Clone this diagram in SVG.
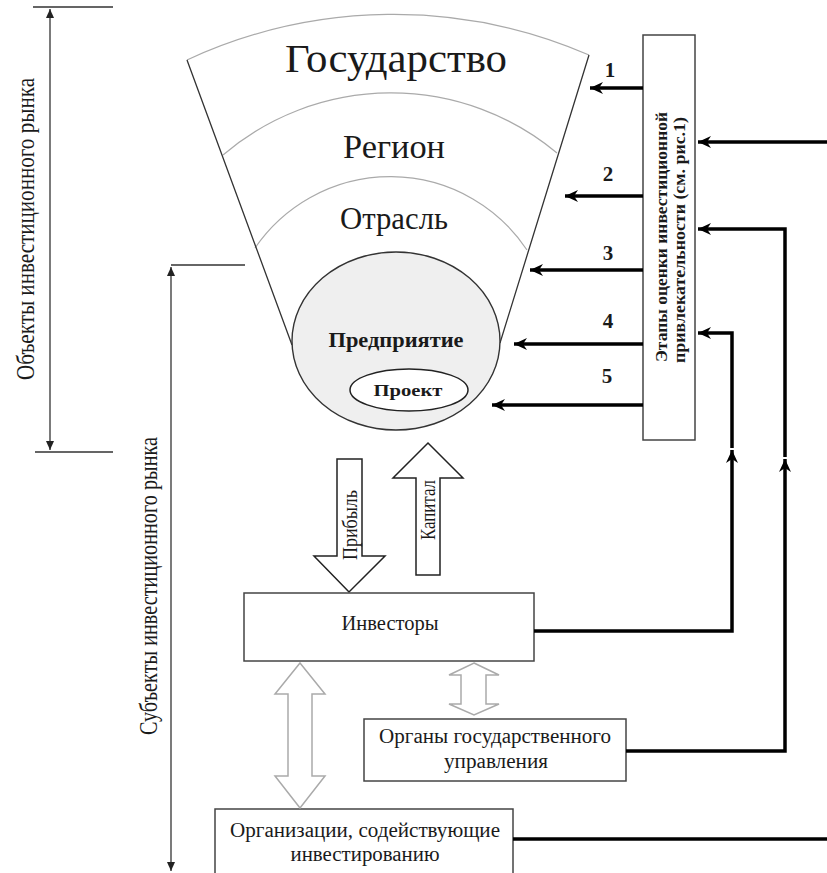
<svg xmlns="http://www.w3.org/2000/svg" width="827" height="873" viewBox="0 0 827 873">
<style>
text{font-family:"Liberation Serif","DejaVu Serif","Times New Roman",serif;fill:#1a1a1a}
.b{font-weight:bold}
.box{fill:#fff;stroke:#444;stroke-width:1.5}
.thin{fill:none;stroke:#333;stroke-width:1.3}
.arc{fill:none;stroke:#aaa;stroke-width:1.2}
.thick{fill:none;stroke:#000;stroke-width:3.5}
.hollow{fill:#fff;stroke:#aaa;stroke-width:1.5}
.blk{fill:#fff;stroke:#222;stroke-width:1.5}
</style>
<defs>
<marker id="ah" markerWidth="14" markerHeight="12" refX="13" refY="6" orient="auto" markerUnits="userSpaceOnUse">
<path d="M0,0 L13,6 L0,12 L4,6 Z" fill="#000"/>
</marker>
<marker id="sa" markerWidth="10" markerHeight="8" refX="9" refY="4" orient="auto-start-reverse" markerUnits="userSpaceOnUse">
<path d="M0,0 L9,4 L0,8 Z" fill="#222"/>
</marker>
</defs>
<rect width="827" height="873" fill="#fff"/>

<g id="axis-objects">
<path class="thin" d="M33,7 H113 M35,452 H113"/>
<path class="thin" d="M50,9 V450" marker-start="url(#sa)" marker-end="url(#sa)"/>
<text transform="translate(34,229) rotate(-90)" text-anchor="middle" font-size="26" textLength="302" lengthAdjust="spacingAndGlyphs">Объекты инвестиционного рынка</text>
</g>

<g id="axis-subjects">
<path class="thin" d="M171,265 H245"/>
<path class="thin" d="M171,267 V871" marker-start="url(#sa)" marker-end="url(#sa)"/>
<text transform="translate(157,586) rotate(-90)" text-anchor="middle" font-size="26" textLength="298" lengthAdjust="spacingAndGlyphs">Субъекты инвестиционного рынка</text>
</g>

<g id="fan">
<path class="arc" d="M187,60 A491,491 0 0,1 589,55"/>
<path class="arc" d="M223,155 A259,259 0 0,1 557,153"/>
<path class="arc" d="M255,248 A164,164 0 0,1 527,250"/>
<path class="thin" d="M187,60 L292,345 M589,55 L500,343"/>
<text x="396" y="72" text-anchor="middle" font-size="41" textLength="222" lengthAdjust="spacingAndGlyphs">Государство</text>
<text x="394" y="158" text-anchor="middle" font-size="33" textLength="102" lengthAdjust="spacingAndGlyphs">Регион</text>
<text x="394" y="229" text-anchor="middle" font-size="31" textLength="108" lengthAdjust="spacingAndGlyphs">Отрасль</text>
</g>

<g id="enterprise">
<ellipse cx="396" cy="341" rx="104" ry="89" fill="#efefef" stroke="#333" stroke-width="1.4"/>
<text class="b" x="396" y="347" text-anchor="middle" font-size="21" textLength="135" lengthAdjust="spacingAndGlyphs">Предприятие</text>
</g>

<g id="project">
<ellipse cx="409" cy="390" rx="59" ry="21" fill="#fff" stroke="#222" stroke-width="1.5"/>
<text class="b" x="408" y="396" text-anchor="middle" font-size="17" textLength="69" lengthAdjust="spacingAndGlyphs">Проект</text>
</g>

<g id="stages">
<rect class="box" x="643" y="35" width="52" height="405"/>
<text class="b" transform="translate(667,237) rotate(-90)" text-anchor="middle" font-size="17" textLength="250" lengthAdjust="spacingAndGlyphs">Этапы оценки инвестиционной</text>
<text class="b" transform="translate(685,240) rotate(-90)" text-anchor="middle" font-size="17" textLength="246" lengthAdjust="spacingAndGlyphs">привлекательности (см. рис.1)</text>
</g>

<g id="profit">
<polygon class="blk" points="337,459 362,459 362,556 385,556 349,592 314,556 337,556"/>
<text transform="translate(357,525) rotate(-90)" text-anchor="middle" font-size="21" textLength="70" lengthAdjust="spacingAndGlyphs">Прибыль</text>
</g>

<g id="capital">
<polygon class="blk" points="416,575 440,575 440,478 463,478 428,443 393,478 416,478"/>
<text transform="translate(435,510) rotate(-90)" text-anchor="middle" font-size="20" textLength="60" lengthAdjust="spacingAndGlyphs">Капитал</text>
</g>

<g id="investors">
<rect class="box" x="244" y="593" width="290" height="68"/>
<text x="390" y="630" text-anchor="middle" font-size="21" textLength="97" lengthAdjust="spacingAndGlyphs">Инвесторы</text>
</g>

<g id="gov">
<rect class="box" x="364" y="719" width="262" height="62"/>
<text x="495" y="743" text-anchor="middle" font-size="20.5" textLength="232" lengthAdjust="spacingAndGlyphs">Органы государственного</text>
<text x="496" y="768" text-anchor="middle" font-size="20.5" textLength="104" lengthAdjust="spacingAndGlyphs">управления</text>
</g>

<g id="orgs">
<rect class="box" x="215" y="809" width="298" height="80"/>
<text x="365" y="837" text-anchor="middle" font-size="20.5" textLength="270" lengthAdjust="spacingAndGlyphs">Организации, содействующие</text>
<text x="365" y="861" text-anchor="middle" font-size="20.5" textLength="149" lengthAdjust="spacingAndGlyphs">инвестированию</text>
</g>

<g id="exchange-arrows">
<polygon class="hollow" points="300,663 325,694 312,694 312,776 325,776 300,808 275,776 288,776 288,694 275,694"/>
<polygon class="hollow" points="474,663 499,675 486,675 486,704 499,704 474,715 449,704 461,704 461,675 449,675"/>
</g>

<g id="connectors">
<path class="thick" d="M643,88 H590" marker-end="url(#ah)"/>
<path class="thick" d="M643,196 H565" marker-end="url(#ah)"/>
<path class="thick" d="M643,270 H530" marker-end="url(#ah)"/>
<path class="thick" d="M643,344 H514" marker-end="url(#ah)"/>
<path class="thick" d="M643,405 H492" marker-end="url(#ah)"/>
<path class="thick" d="M827,142 H698" marker-end="url(#ah)"/>
<path class="thick" d="M626,751 H785 V459" marker-end="url(#ah)"/>
<path class="thick" d="M785,457 V229 H698" marker-end="url(#ah)"/>
<path class="thick" d="M534,631 H732 V450" marker-end="url(#ah)"/>
<path class="thick" d="M732,448 V333 H698" marker-end="url(#ah)"/>
<path class="thick" d="M513,839 H827"/>
</g>

<g id="stage-labels">
<text class="b" x="610" y="77" text-anchor="middle" font-size="21">1</text>
<text class="b" x="608" y="181" text-anchor="middle" font-size="21">2</text>
<text class="b" x="608" y="260" text-anchor="middle" font-size="21">3</text>
<text class="b" x="608" y="328" text-anchor="middle" font-size="21">4</text>
<text class="b" x="607" y="383" text-anchor="middle" font-size="21">5</text>
</g>
</svg>
